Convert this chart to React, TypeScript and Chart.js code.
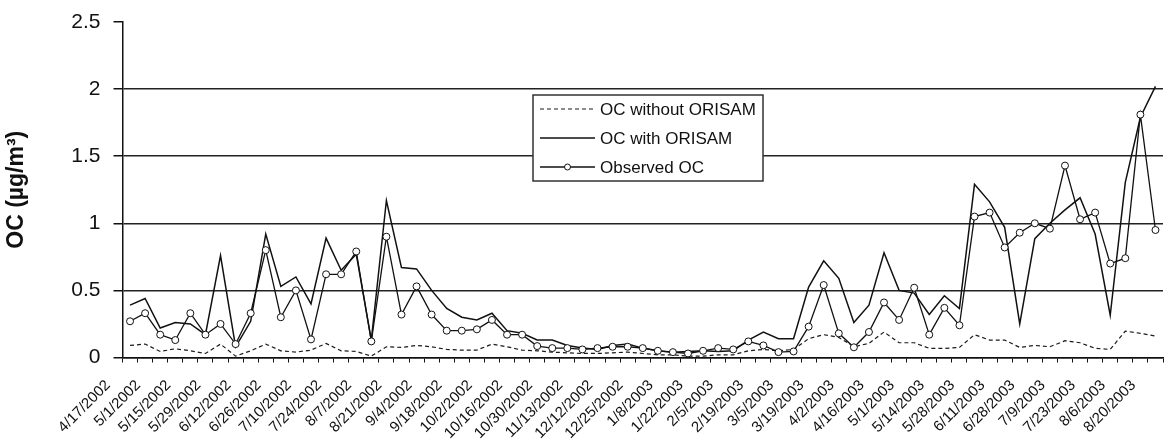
import React, { useEffect, useRef } from 'react';
import { Chart, registerables } from 'chart.js';

Chart.register(...registerables);

// Labelled dates (every second weekly sample is labelled on the axis)
const tickLabels = [
  '4/17/2002', '5/1/2002', '5/15/2002', '5/29/2002', '6/12/2002', '6/26/2002',
  '7/10/2002', '7/24/2002', '8/7/2002', '8/21/2002', '9/4/2002', '9/18/2002',
  '10/2/2002', '10/16/2002', '10/30/2002', '11/13/2002', '12/12/2002', '12/25/2002',
  '1/8/2003', '1/22/2003', '2/5/2003', '2/19/2003', '3/5/2003', '3/19/2003',
  '4/2/2003', '4/16/2003', '5/1/2003', '5/14/2003', '5/28/2003', '6/11/2003',
  '6/28/2003', '7/9/2003', '7/23/2003', '8/6/2003', '8/20/2003',
];

const seriesNames = ['OC without ORISAM', 'OC with ORISAM', 'Observed OC'];

const withoutOrisam = [
  0.09, 0.10, 0.045, 0.065, 0.05, 0.03, 0.10, 0.01, 0.05, 0.10,
  0.05, 0.04, 0.055, 0.105, 0.05, 0.045, 0.01, 0.08, 0.075, 0.09,
  0.08, 0.06, 0.055, 0.055, 0.10, 0.08, 0.055, 0.05, 0.04, 0.035,
  0.03, 0.03, 0.035, 0.04, 0.03, 0.02, 0.02, 0.01, 0.01, 0.02,
  0.02, 0.05, 0.06, 0.05, 0.06, 0.14, 0.17, 0.15, 0.08, 0.105,
  0.19, 0.11, 0.11, 0.068, 0.068, 0.075, 0.17, 0.13, 0.13, 0.075,
  0.09, 0.08, 0.125, 0.11, 0.068, 0.06, 0.197, 0.18, 0.16,
];

const withOrisam = [
  0.39, 0.44, 0.22, 0.26, 0.25, 0.17, 0.76, 0.08, 0.27, 0.92,
  0.53, 0.60, 0.40, 0.89, 0.65, 0.77, 0.13, 1.17, 0.67, 0.66,
  0.50, 0.365, 0.30, 0.28, 0.33, 0.20, 0.18, 0.13, 0.13, 0.09,
  0.07, 0.06, 0.09, 0.10, 0.07, 0.05, 0.04, 0.045, 0.05, 0.045,
  0.05, 0.13, 0.19, 0.14, 0.14, 0.525, 0.72, 0.59, 0.26, 0.39,
  0.78, 0.50, 0.48, 0.32, 0.46, 0.365, 1.29, 1.16, 0.97, 0.25,
  0.885, 1.0, 1.1, 1.19, 0.92, 0.315, 1.305, 1.79, 2.02,
];

const observedOC = [
  0.27, 0.33, 0.17, 0.13, 0.33, 0.17, 0.25, 0.10, 0.33, 0.80,
  0.30, 0.50, 0.135, 0.62, 0.62, 0.79, 0.12, 0.90, 0.32, 0.53,
  0.32, 0.20, 0.20, 0.21, 0.28, 0.17, 0.17, 0.085, 0.07, 0.07,
  0.06, 0.07, 0.08, 0.08, 0.07, 0.05, 0.04, 0.03, 0.05, 0.07,
  0.06, 0.12, 0.09, 0.04, 0.045, 0.23, 0.54, 0.18, 0.076, 0.19,
  0.41, 0.28, 0.52, 0.17, 0.37, 0.24, 1.05, 1.08, 0.82, 0.93,
  1.0, 0.96, 1.43, 1.03, 1.08, 0.70, 0.74, 1.81, 0.95,
];

const yMin = 0;
const yMax = 2.5;
const yStep = 0.5;

const FONT = "Arial, 'Liberation Sans', sans-serif";

// weekly categories: labelled date, then an unlabelled week
const categories: string[] = tickLabels.flatMap((d, i) =>
  i < tickLabels.length - 1 ? [d, ''] : [d]
);

const boxLegend = {
  id: 'boxLegend',
  afterDatasetsDraw(chart: any) {
    const { ctx, chartArea } = chart;
    const x0 = chartArea.left + 410.5;
    const y0 = chartArea.top + 73;
    const w = 230;
    const h = 86;
    ctx.save();
    ctx.fillStyle = '#ffffff';
    ctx.fillRect(x0, y0, w, h);
    ctx.strokeStyle = '#333333';
    ctx.lineWidth = 1.5;
    ctx.strokeRect(x0, y0, w, h);
    ctx.font = `17px ${FONT}`;
    ctx.textBaseline = 'middle';
    ctx.textAlign = 'left';
    chart.data.datasets.forEach((ds: any, i: number) => {
      const y = y0 + 14 + i * 29;
      ctx.beginPath();
      ctx.setLineDash(ds.borderDash || []);
      ctx.strokeStyle = ds.borderColor;
      ctx.lineWidth = ds.borderWidth;
      ctx.moveTo(x0 + 7, y);
      ctx.lineTo(x0 + 62, y);
      ctx.stroke();
      ctx.setLineDash([]);
      if (ds.pointRadius > 0) {
        ctx.beginPath();
        ctx.arc(x0 + 34.5, y, 3, 0, Math.PI * 2);
        ctx.fillStyle = '#ffffff';
        ctx.fill();
        ctx.lineWidth = 1;
        ctx.stroke();
      }
      ctx.fillStyle = '#111111';
      ctx.fillText(ds.label, x0 + 67, y + 1);
    });
    ctx.restore();
  },
};

export default function App() {
  const canvasRef = useRef<HTMLCanvasElement | null>(null);

  useEffect(() => {
    const canvas = canvasRef.current;
    if (!canvas) return;
    const chart = new Chart(canvas, {
      type: 'line',
      data: {
        labels: categories,
        datasets: [
          {
            label: seriesNames[0],
            data: withoutOrisam,
            borderColor: '#1a1a1a',
            borderWidth: 1.2,
            borderDash: [4, 3],
            pointRadius: 0,
            tension: 0,
            fill: false,
            order: 3,
          },
          {
            label: seriesNames[1],
            data: withOrisam,
            borderColor: '#111111',
            borderWidth: 1.5,
            pointRadius: 0,
            tension: 0,
            fill: false,
            order: 2,
          },
          {
            label: seriesNames[2],
            data: observedOC,
            borderColor: '#111111',
            borderWidth: 1.3,
            pointRadius: 3.5,
            pointBorderWidth: 1,
            pointBackgroundColor: '#ffffff',
            pointBorderColor: '#111111',
            tension: 0,
            fill: false,
            order: 1,
          },
        ] as any,
      },
      options: {
        responsive: false,
        animation: false,
        events: [],
        layout: { padding: { top: 22, left: 0, right: 1, bottom: 0 } },
        plugins: {
          legend: { display: false },
          tooltip: { enabled: false },
          title: { display: false },
        },
        scales: {
          x: {
            type: 'category',
            offset: true,
            border: { display: true, color: '#111111', width: 1.5 },
            grid: {
              offset: true,
              drawOnChartArea: false,
              drawTicks: true,
              tickLength: 5,
              color: '#111111',
              lineWidth: 1,
            },
            ticks: {
              autoSkip: false,
              maxRotation: 45,
              minRotation: 45,
              labelOffset: -22,
              padding: 14,
              color: '#111111',
              font: { family: FONT, size: 15 },
            },
            afterFit(scale: any) {
              scale.height = 90.5;
              scale.paddingLeft = 0;
              scale.paddingRight = 0;
            },
          },
          y: {
            min: yMin,
            max: yMax,
            border: { display: true, color: '#111111', width: 1.5 },
            grid: {
              color: (c: any) => (c.tick && c.tick.value === yMax ? 'rgba(0,0,0,0)' : '#222222'),
              tickColor: '#111111',
              lineWidth: 1.5,
              tickLength: 9,
            },
            ticks: {
              stepSize: yStep,
              padding: 13,
              color: '#111111',
              font: { family: FONT, size: 21 },
              callback: (v: any) => String(Number(v)),
            },
            title: {
              display: true,
              text: 'OC (µg/m³)',
              color: '#111111',
              font: { family: FONT, size: 23, weight: 'bold' },
              padding: { top: 3, bottom: 0 },
            },
            afterFit(scale: any) {
              scale.width = 122.5;
              scale.paddingTop = 0;
              scale.paddingBottom = 0;
            },
          },
        },
      },
      plugins: [boxLegend],
    });
    return () => chart.destroy();
  }, []);

  return (
    <div style={{ position: 'fixed', left: 0, top: 0, width: 1168, height: 448, background: '#ffffff' }}>
      <canvas ref={canvasRef} width={1168} height={448} />
    </div>
  );
}
